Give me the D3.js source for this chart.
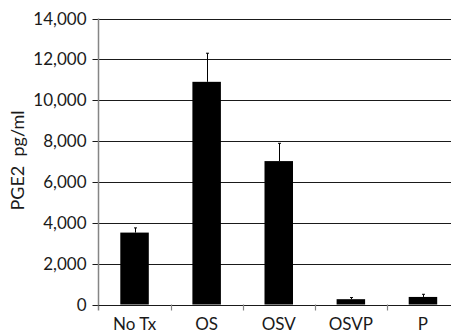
<!DOCTYPE html>
<html>
<head>
<meta charset="utf-8">
<script src="https://cdn.jsdelivr.net/npm/d3@7"></script>
<style>
  body { margin: 0; background: #fff; }
  svg { display: block; }
</style>
</head>
<body>
<div id="chart"></div>
<script>
// data
const categories = ["No Tx", "OS", "OSV", "OSVP", "P"];
const values = [3520, 10900, 7020, 260, 370];
const errors = [230, 1400, 870, 80, 130];
const yTicks = [0, 2000, 4000, 6000, 8000, 10000, 12000, 14000];

const width = 451, height = 334;
const margin = {top: 18.5, right: -8, bottom: 29.5, left: 98.5};
const font = "Lato, 'Open Sans', sans-serif";

const svg = d3.select("#chart")
    .append("svg")
    .attr("width", width)
    .attr("height", height);

const x = d3.scaleBand()
    .domain(categories)
    .range([margin.left, width - margin.right])
    .paddingInner(0)
    .paddingOuter(0);

const y = d3.scaleLinear()
    .domain([0, 14000])
    .range([height - margin.bottom, margin.top]);

// gridlines
svg.append("g")
    .selectAll("line")
    .data(yTicks)
    .enter()
    .append("line")
    .attr("x1", margin.left - 6)
    .attr("x2", width)
    .attr("y1", d => Math.round(y(d)) + 0.5)
    .attr("y2", d => Math.round(y(d)) + 0.5)
    .attr("stroke", "#1a1a1a")
    .attr("stroke-width", 1.2);

// y tick labels
svg.append("g")
    .selectAll("text")
    .data(yTicks)
    .enter()
    .append("text")
    .attr("x", margin.left - 12)
    .attr("y", d => y(d))
    .attr("dy", "0.36em")
    .attr("text-anchor", "end")
    .style("font", `17px ${font}`)
    .attr("fill", "#1a1a1a")
    .text(d => d3.format(",")(d));

// bars
const barW = 28.5;
svg.append("g")
    .selectAll("rect")
    .data(categories)
    .enter()
    .append("rect")
    .attr("x", d => x(d) + x.bandwidth() / 2 - barW / 2)
    .attr("y", (d, i) => y(values[i]))
    .attr("width", barW)
    .attr("height", (d, i) => y(0) - y(values[i]))
    .attr("fill", "#000");

// error bars (upper only)
const err = svg.append("g").attr("stroke", "#000").attr("stroke-width", 1);
categories.forEach((c, i) => {
    const cx = Math.round(x(c) + x.bandwidth() / 2) + 0.5;
    err.append("line")
        .attr("x1", cx).attr("x2", cx)
        .attr("y1", y(values[i])).attr("y2", y(values[i] + errors[i]));
    err.append("line")
        .attr("x1", cx - 1.5).attr("x2", cx + 1.5)
        .attr("y1", y(values[i] + errors[i])).attr("y2", y(values[i] + errors[i]));
});

// y axis line
svg.append("line")
    .attr("x1", margin.left).attr("x2", margin.left)
    .attr("y1", y(14000)).attr("y2", y(0) + 6)
    .attr("stroke", "#858585")
    .attr("stroke-width", 1.5);

// x baseline and category ticks
svg.append("line")
    .attr("x1", margin.left).attr("x2", width)
    .attr("y1", Math.round(y(0)) + 0.5).attr("y2", Math.round(y(0)) + 0.5)
    .attr("stroke", "#1a1a1a")
    .attr("stroke-width", 1.2);

svg.append("g")
    .selectAll("line")
    .data(categories.slice(1))
    .enter()
    .append("line")
    .attr("x1", d => Math.round(x(d)) + 0.5)
    .attr("x2", d => Math.round(x(d)) + 0.5)
    .attr("y1", y(0))
    .attr("y2", y(0) + 6)
    .attr("stroke", "#858585")
    .attr("stroke-width", 1.2);

// category labels (reference crops them at the bottom edge; kept just inside)
svg.append("g")
    .selectAll("text")
    .data(categories)
    .enter()
    .append("text")
    .attr("x", d => x(d) + x.bandwidth() / 2)
    .attr("y", height - 4)
    .attr("text-anchor", "middle")
    .style("font", `17px ${font}`)
    .attr("fill", "#1a1a1a")
    .text(d => d);

// y axis title
svg.append("text")
    .attr("transform", `translate(24, ${y(7050)}) rotate(-90)`)
    .attr("text-anchor", "middle")
    .attr("xml:space", "preserve")
    .style("white-space", "pre")
    .style("font", `18px ${font}`)
    .attr("fill", "#1a1a1a")
    .text("PGE2  pg/ml");
</script>
</body>
</html>
